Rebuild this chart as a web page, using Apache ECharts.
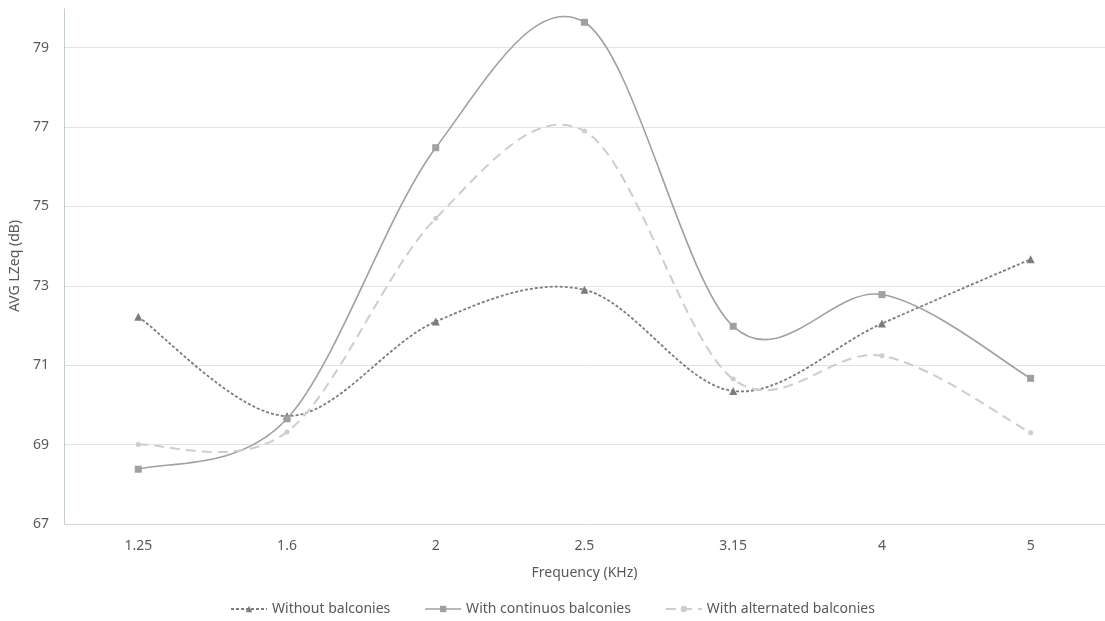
<!DOCTYPE html>
<html>
<head>
<meta charset="utf-8">
<script src="https://cdn.jsdelivr.net/npm/echarts@6/dist/echarts.min.js"></script>
<style>html,body{margin:0;padding:0;background:#fff}#c{width:1105px;height:621px}</style>
</head>
<body>
<div id="c"></div>
<script>
const categories = ['1.25', '1.6', '2', '2.5', '3.15', '4', '5'];
const withoutBalconies = [72.22, 69.72, 72.1, 72.9, 70.35, 72.05, 73.67];
const continuousBalconies = [68.38, 69.65, 76.48, 79.64, 71.98, 72.78, 70.67];
const alternatedBalconies = [69.0, 69.32, 74.7, 76.9, 70.65, 71.24, 69.3];
const seriesNames = ['Without balconies', 'With continuos balconies', 'With alternated balconies'];

const font = 'Noto Sans';
const styles = [
  { color: '#7c7c7c', width: 1.8, dash: [3, 2], symbol: 'triangle', size: 8 },
  { color: '#a0a0a0', width: 1.6, dash: 'solid', symbol: 'rect', size: 7 },
  { color: '#cdcdcd', width: 2, dash: [10, 6], symbol: 'circle', size: 5 }
];
const allValues = [withoutBalconies, continuousBalconies, alternatedBalconies];

// Smooth (Catmull-Rom) curve through the data points, positioned by the chart's own axes
function curveSeries(values, st) {
  return {
    type: 'custom', z: 2, silent: true,
    data: values.map((v, i) => [i, v]),
    encode: { x: 0, y: 1 },
    renderItem: function (params, api) {
      if (params.dataIndex !== 0) return null;
      const pts = values.map((v, i) => api.coord([i, v]));
      let d = 'M' + pts[0][0] + ',' + pts[0][1];
      for (let i = 0; i < pts.length - 1; i++) {
        const p0 = pts[i - 1] || pts[i], p1 = pts[i], p2 = pts[i + 1], p3 = pts[i + 2] || pts[i + 1];
        const c1x = p1[0] + (p2[0] - p0[0]) / 6, c1y = p1[1] + (p2[1] - p0[1]) / 6;
        const c2x = p2[0] - (p3[0] - p1[0]) / 6, c2y = p2[1] - (p3[1] - p1[1]) / 6;
        d += ' C' + c1x + ',' + c1y + ' ' + c2x + ',' + c2y + ' ' + p2[0] + ',' + p2[1];
      }
      return {
        type: 'path',
        shape: { pathData: d },
        style: { fill: 'none', stroke: st.color, lineWidth: st.width, lineDash: st.dash === 'solid' ? null : st.dash }
      };
    }
  };
}

const series = [];
allValues.forEach((vals, k) => {
  const st = styles[k];
  series.push(curveSeries(vals, st));
  series.push({
    name: seriesNames[k], type: 'line', data: vals, z: 3,
    symbol: st.symbol, symbolSize: st.size, showSymbol: true,
    itemStyle: { color: st.color },
    lineStyle: { color: st.color, width: st.width, type: st.dash, opacity: 0 }
  });
});

const chart = echarts.init(document.getElementById('c'));
chart.setOption({
  animation: false,
  backgroundColor: '#ffffff',
  textStyle: { fontFamily: font },
  grid: { left: 63, right: -7, top: 8, bottom: 97, containLabel: false },
  legend: {
    top: 597, left: 'center', itemGap: 34, itemWidth: 36, itemHeight: 8,
    textStyle: { color: '#595959', fontSize: 14, fontFamily: font },
    data: seriesNames.map((n, k) => ({
      name: n,
      lineStyle: { color: styles[k].color, width: styles[k].width, type: styles[k].dash, opacity: 1 }
    }))
  },
  xAxis: {
    type: 'category', data: categories, boundaryGap: true,
    name: 'Frequency (KHz)', nameLocation: 'middle', nameGap: 42,
    nameTextStyle: { color: '#595959', fontSize: 14, fontFamily: font },
    axisLine: { lineStyle: { color: '#d9d9d9', width: 1 } },
    axisTick: { show: false },
    axisLabel: { color: '#595959', fontSize: 14, margin: 15 }
  },
  yAxis: {
    type: 'value', min: 67, max: 80, interval: 2,
    name: 'AVG LZeq (dB)', nameLocation: 'middle', nameGap: 37,
    nameTextStyle: { color: '#595959', fontSize: 14, fontFamily: font },
    axisLine: { show: true, lineStyle: { color: '#b6c3cc', type: 'dotted', width: 1 } },
    axisTick: { show: false },
    axisLabel: { color: '#595959', fontSize: 14, margin: 15, showMaxLabel: false },
    splitLine: { showMaxLine: false, lineStyle: { color: '#e3e3e3', width: 1 } }
  },
  series: series
});
</script>
</body>
</html>
